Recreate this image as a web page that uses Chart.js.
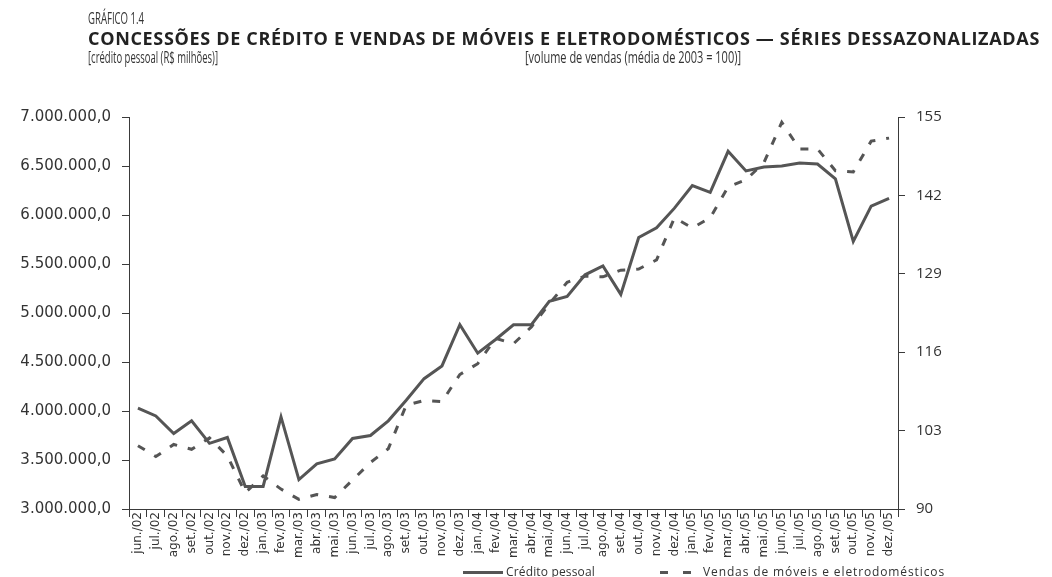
<!DOCTYPE html>
<html>
<head>
<meta charset="utf-8">
<script src="https://cdn.jsdelivr.net/npm/chart.js@4.4.1/dist/chart.umd.min.js"></script>
<style>
  body { margin: 0; background: #fff; overflow: hidden; }
  #wrap { position: relative; width: 1052px; height: 577px; }
  #c { position: absolute; left: 0; top: 0; }
  .txt { position: absolute; white-space: nowrap; color: #333; transform-origin: left top; }
  .cond { font-family: "Liberation Sans Narrow", "Open Sans", sans-serif; }
  .leg { font-family: "Open Sans", sans-serif; font-size: 12px; line-height: 14px; }
</style>
</head>
<body>
<div id="wrap">
  <canvas id="c" width="1052" height="577"></canvas>
  <div class="txt cond" style="left:88px; top:9px; font-size:16px; line-height:18px;" data-w="56">GRÁFICO 1.4</div>
  <div class="txt cond" style="left:88px; top:28px; font-size:18px; line-height:20px; font-weight:bold; color:#222;" data-w="952">CONCESSÕES DE CRÉDITO E VENDAS DE MÓVEIS E ELETRODOMÉSTICOS — SÉRIES DESSAZONALIZADAS</div>
  <div class="txt cond" style="left:88px; top:48px; font-size:16px; line-height:18px;" data-w="130">[crédito pessoal (R$ milhões)]</div>
  <div class="txt cond" style="left:525px; top:48px; font-size:16px; line-height:18px;" data-w="216">[volume de vendas (média de 2003 = 100)]</div>

  <div style="position:absolute; left:463px; top:571px; width:40px; height:3px; background:#555;"></div>
  <div class="txt leg" style="left:506px; top:565px;" data-w="89">Crédito pessoal</div>
  <div style="position:absolute; left:660px; top:571px; width:31px; height:3px; background:repeating-linear-gradient(90deg, #555 0 8px, transparent 8px 23px);"></div>
  <div class="txt leg" style="left:703px; top:565px;" data-w="242">Vendas de móveis e eletrodomésticos</div>
</div>
<script>
// categorias (meses)
const meses = [
  "jun./02","jul./02","ago./02","set./02","out./02","nov./02","dez./02",
  "jan./03","fev./03","mar./03","abr./03","mai./03","jun./03","jul./03","ago./03","set./03","out./03","nov./03","dez./03",
  "jan./04","fev./04","mar./04","abr./04","mai./04","jun./04","jul./04","ago./04","set./04","out./04","nov./04","dez./04",
  "jan./05","fev./05","mar./05","abr./05","mai./05","jun./05","jul./05","ago./05","set./05","out./05","nov./05","dez./05"
];

// crédito pessoal (R$ milhões) - eixo esquerdo
const credito = [
  4030000, 3950000, 3770000, 3900000, 3670000, 3730000, 3230000,
  3230000, 3940000, 3300000, 3460000, 3510000, 3720000, 3750000, 3900000, 4110000, 4330000, 4460000, 4880000,
  4590000, 4730000, 4880000, 4880000, 5120000, 5170000, 5390000, 5480000, 5190000, 5770000, 5870000, 6070000,
  6300000, 6230000, 6650000, 6450000, 6490000, 6500000, 6530000, 6520000, 6370000, 5730000, 6090000, 6170000
];

// volume de vendas (média de 2003 = 100) - eixo direito
const vendas = [
  100.5, 98.7, 100.7, 99.9, 101.8, 98.8, 92.7,
  95.5, 93.3, 91.6, 92.4, 91.9, 94.8, 97.7, 100.0, 107.2, 108.0, 107.8, 112.3,
  114.1, 118.3, 117.4, 120.2, 124.0, 127.6, 128.6, 128.5, 129.6, 129.8, 131.3, 138.3,
  136.6, 138.3, 143.4, 144.6, 147.4, 154.1, 149.7, 149.7, 146.1, 145.9, 151.0, 151.5
];

const ticksEsq = [3000000, 3500000, 4000000, 4500000, 5000000, 5500000, 6000000, 6500000, 7000000];
const ticksDir = [90, 103, 116, 129, 142, 155];

function fmt(v) {
  return Math.round(v).toString().replace(/\B(?=(\d{3})+(?!\d))/g, ".") + ",0";
}

// ajusta largura dos textos
document.querySelectorAll(".txt").forEach(el => {
  const w = +el.dataset.w;
  const nat = el.getBoundingClientRect().width;
  const n = el.textContent.length;
  if (nat < w) {
    el.style.letterSpacing = ((w - nat) / n) + "px";
  } else {
    el.style.transform = "scaleX(" + (w / nat) + ")";
  }
});

const cor = "#555555";
const eixo = "#3a3a3a";

new Chart(document.getElementById("c"), {
  type: "line",
  data: {
    labels: meses,
    datasets: [{
      label: "Crédito pessoal",
      data: credito,
      yAxisID: "y",
      borderColor: cor,
      borderWidth: 3,
      pointRadius: 0,
      tension: 0,
      fill: false
    }, {
      label: "Vendas de móveis e eletrodomésticos",
      data: vendas,
      yAxisID: "y2",
      borderColor: cor,
      borderWidth: 3,
      borderDash: [8, 11],
      pointRadius: 0,
      tension: 0,
      fill: false
    }]
  },
  options: {
    responsive: false,
    animation: false,
    layout: { padding: { top: 117, left: 0, right: 0, bottom: 0 } },
    plugins: {
      legend: { display: false },
      tooltip: { enabled: false }
    },
    scales: {
      x: {
        offset: true,
        grid: { offset: true, drawOnChartArea: false, tickLength: 8, color: eixo },
        border: { color: eixo },
        ticks: {
          autoSkip: false, maxRotation: 90, minRotation: 90, padding: -5,
          color: "#333", font: { family: "DejaVu Sans", size: 12 }
        },
        afterFit: s => { s.height = 68; }
      },
      y: {
        position: "left",
        min: 3000000, max: 7000000,
        afterBuildTicks: s => { s.ticks = ticksEsq.map(v => ({ value: v })); },
        grid: { drawOnChartArea: false, tickLength: 7, color: eixo },
        border: { color: eixo },
        ticks: {
          padding: 11, color: "#333",
          font: { family: "DejaVu Sans", size: 15 },
          callback: v => fmt(v)
        },
        afterFit: s => { s.width = 129; }
      },
      y2: {
        position: "right",
        min: 90, max: 155,
        afterBuildTicks: s => { s.ticks = ticksDir.map(v => ({ value: v })); },
        grid: { drawOnChartArea: false, tickLength: 7, color: eixo },
        border: { color: eixo },
        ticks: {
          padding: 11, color: "#333",
          font: { family: "Open Sans", size: 15 }
        },
        afterFit: s => { s.width = 154; }
      }
    }
  }
});
</script>
</body>
</html>
